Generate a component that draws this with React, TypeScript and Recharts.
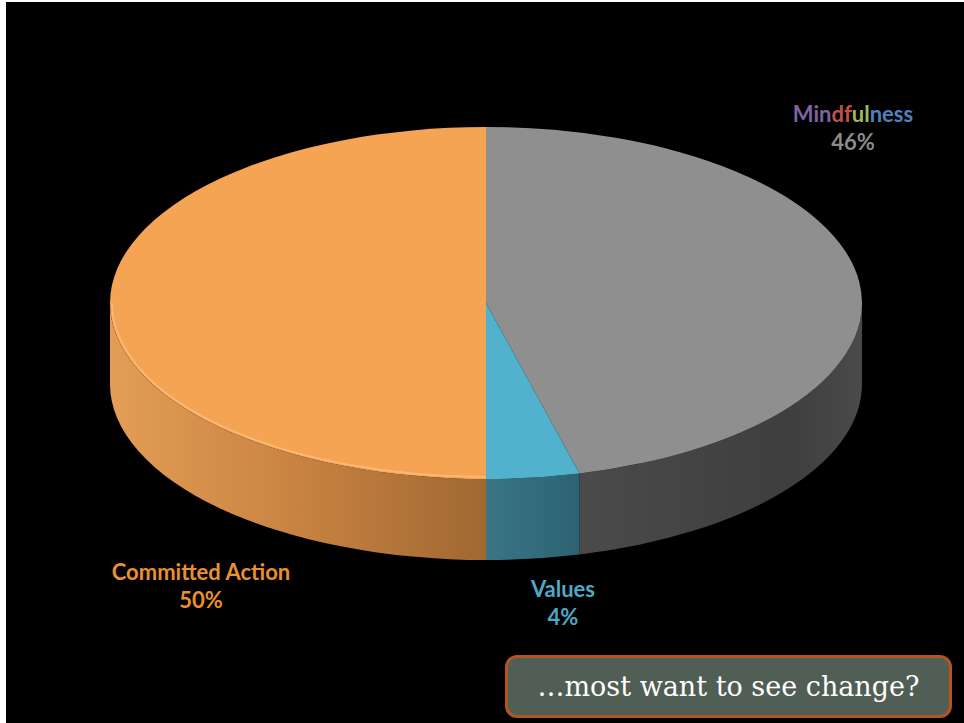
import React from "react";
import { PieChart, Pie, Cell } from "recharts";

const categories = ["Mindfulness", "Values", "Committed Action"];
const shares = [46, 4, 50];
const percentLabels = ["46%", "4%", "50%"];

const TOP_COLORS = ["#8F8F8F", "#52B2CD", "#F5A454"];
const LABEL_COLORS = ["#8C8C8C", "#4FA8C6", "#E8912E"];
const LABEL_POS: Record<string, { x: number; y: number }> = {
  Mindfulness: { x: 853, y: 122 },
  Values: { x: 563, y: 597 },
  "Committed Action": { x: 201, y: 580 },
};
const MINDFULNESS_PARTS = [
  { t: "Min", c: "#8064A2" },
  { t: "df", c: "#C0504D" },
  { t: "ul", c: "#9BBB59" },
  { t: "ness", c: "#4F81BD" },
];

const data = categories.map((name, i) => ({ name, value: shares[i], pct: percentLabels[i] }));

const CX = 486;
const CY = 303;
const RX = 376;
const RY_RATIO = 176 / 376;
const DEPTH = 81;

const RAD = Math.PI / 180;

function pt(cx: number, cy: number, rx: number, ry: number, a: number, dy = 0) {
  return [cx + rx * Math.cos(a * RAD), cy - ry * Math.sin(a * RAD) + dy];
}

const WallShape = (props: any) => {
  const { cx, cy, outerRadius, startAngle, endAngle, fill, index } = props;
  const rx = outerRadius;
  const ry = outerRadius * RY_RATIO;
  const s = Math.max(startAngle, endAngle);
  const e = Math.min(startAngle, endAngle);
  const span = s - e;
  const large = span > 180 ? 1 : 0;
  const p1 = pt(cx, cy, rx, ry, s);
  const p2 = pt(cx, cy, rx, ry, e);
  const top = `M${cx},${cy} L${p1[0]},${p1[1]} A${rx},${ry} 0 ${large} 1 ${p2[0]},${p2[1]} Z`;

  const walls: string[] = [];
  const ranges = [
    [-180, 0],
    [180, 360],
    [-540, -360],
  ];
  ranges.forEach(([lo, hi]) => {
    const a = Math.min(s, hi);
    const b = Math.max(e, lo);
    if (a > b) {
      const q1 = pt(cx, cy, rx, ry, a);
      const q2 = pt(cx, cy, rx, ry, b);
      const q3 = pt(cx, cy, rx, ry, b, DEPTH);
      const q4 = pt(cx, cy, rx, ry, a, DEPTH);
      walls.push(
        `M${q1[0]},${q1[1]} A${rx},${ry} 0 0 1 ${q2[0]},${q2[1]} L${q3[0]},${q3[1]} A${rx},${ry} 0 0 0 ${q4[0]},${q4[1]} Z`
      );
    }
  });
  const gid = `wallgrad${index}`;
  return (
    <g>
      <defs>
        <linearGradient id={gid} gradientUnits="userSpaceOnUse" x1={cx - rx} y1={0} x2={cx + rx} y2={0}>
          {index === 2 && <stop offset="0" stopColor="#E39D55" />}
          {index === 2 && <stop offset="0.2" stopColor="#CF8845" />}
          {index === 2 && <stop offset="0.5" stopColor="#A06831" />}
          {index === 1 && <stop offset="0.5" stopColor="#3A7686" />}
          {index === 1 && <stop offset="0.65" stopColor="#2A5E6E" />}
          {index === 0 && <stop offset="0.64" stopColor="#4A4A4A" />}
          {index === 0 && <stop offset="0.9" stopColor="#3E3E3E" />}
          {index === 0 && <stop offset="1" stopColor="#4A4A4A" />}
        </linearGradient>
      </defs>
      {walls.map((d, i) => (
        <path key={i} d={d} fill={`url(#${gid})`} stroke="none" />
      ))}
      <path d={top} fill={fill} stroke="none" />
      {index === 2 && walls.map((_, i) => {
        const a = Math.min(s, 0);
        const b = Math.max(e, -180);
        const q1 = pt(cx, cy, rx - 2, ry - 2, a);
        const q2 = pt(cx, cy, rx - 2, ry - 2, b);
        return (
          <path
            key={`h${i}`}
            d={`M${q2[0]},${q2[1]} A${rx - 2},${ry - 2} 0 0 0 ${q1[0]},${q1[1]}`}
            fill="none"
            stroke="#FFC98E"
            strokeOpacity={0.55}
            strokeWidth={2}
          />
        );
      })}
    </g>
  );
};

const renderLabel = (props: any) => {
  const { index } = props;
  const d = data[index];
  const pos = LABEL_POS[d.name];
  const font = { fontFamily: "Lato, 'Open Sans', sans-serif", fontWeight: 700, fontSize: 22 };
  return (
    <g key={`lbl${index}`}>
      {d.name === "Mindfulness" ? (
        <text x={pos.x} y={pos.y} textAnchor="middle" {...font}>
          {MINDFULNESS_PARTS.map((p, i) => (
            <tspan key={i} fill={p.c}>
              {p.t}
            </tspan>
          ))}
        </text>
      ) : (
        <text x={pos.x} y={pos.y} textAnchor="middle" fill={LABEL_COLORS[index]} {...font}>
          {d.name}
        </text>
      )}
      <text x={pos.x} y={pos.y + 28} textAnchor="middle" fill={LABEL_COLORS[index]} {...font}>
        {d.pct}
      </text>
    </g>
  );
};

export default function App() {
  return (
    <div style={{ position: "absolute", left: 0, top: 0, width: 964, height: 723, background: "#ffffff", overflow: "hidden" }}>
      <div style={{ position: "absolute", left: 6, top: 2, width: 958, height: 721, background: "#000000" }} />
      <div style={{ position: "absolute", left: 0, top: 0 }}>
        <PieChart width={964} height={723} margin={{ top: 0, right: 0, bottom: 0, left: 0 }}>
          <Pie
            data={data}
            dataKey="value"
            nameKey="name"
            cx={CX}
            cy={CY}
            outerRadius={RX}
            innerRadius={0}
            startAngle={90}
            endAngle={-270}
            stroke="none"
            isAnimationActive={false}
            shape={WallShape}
            label={renderLabel}
            labelLine={false}
          >
            {data.map((d, i) => (
              <Cell key={d.name} fill={TOP_COLORS[i]} />
            ))}
          </Pie>
        </PieChart>
      </div>
      <div
        style={{
          position: "absolute",
          left: 505,
          top: 655,
          width: 447,
          height: 63,
          boxSizing: "border-box",
          background: "#515E55",
          border: "3px solid #B4541E",
          borderRadius: 12,
          display: "flex",
          alignItems: "center",
          justifyContent: "center",
          color: "#FFFFFF",
          fontFamily: "'DejaVu Serif', serif",
          fontSize: 27,
        }}
      >
        …most want to see change?
      </div>
    </div>
  );
}
